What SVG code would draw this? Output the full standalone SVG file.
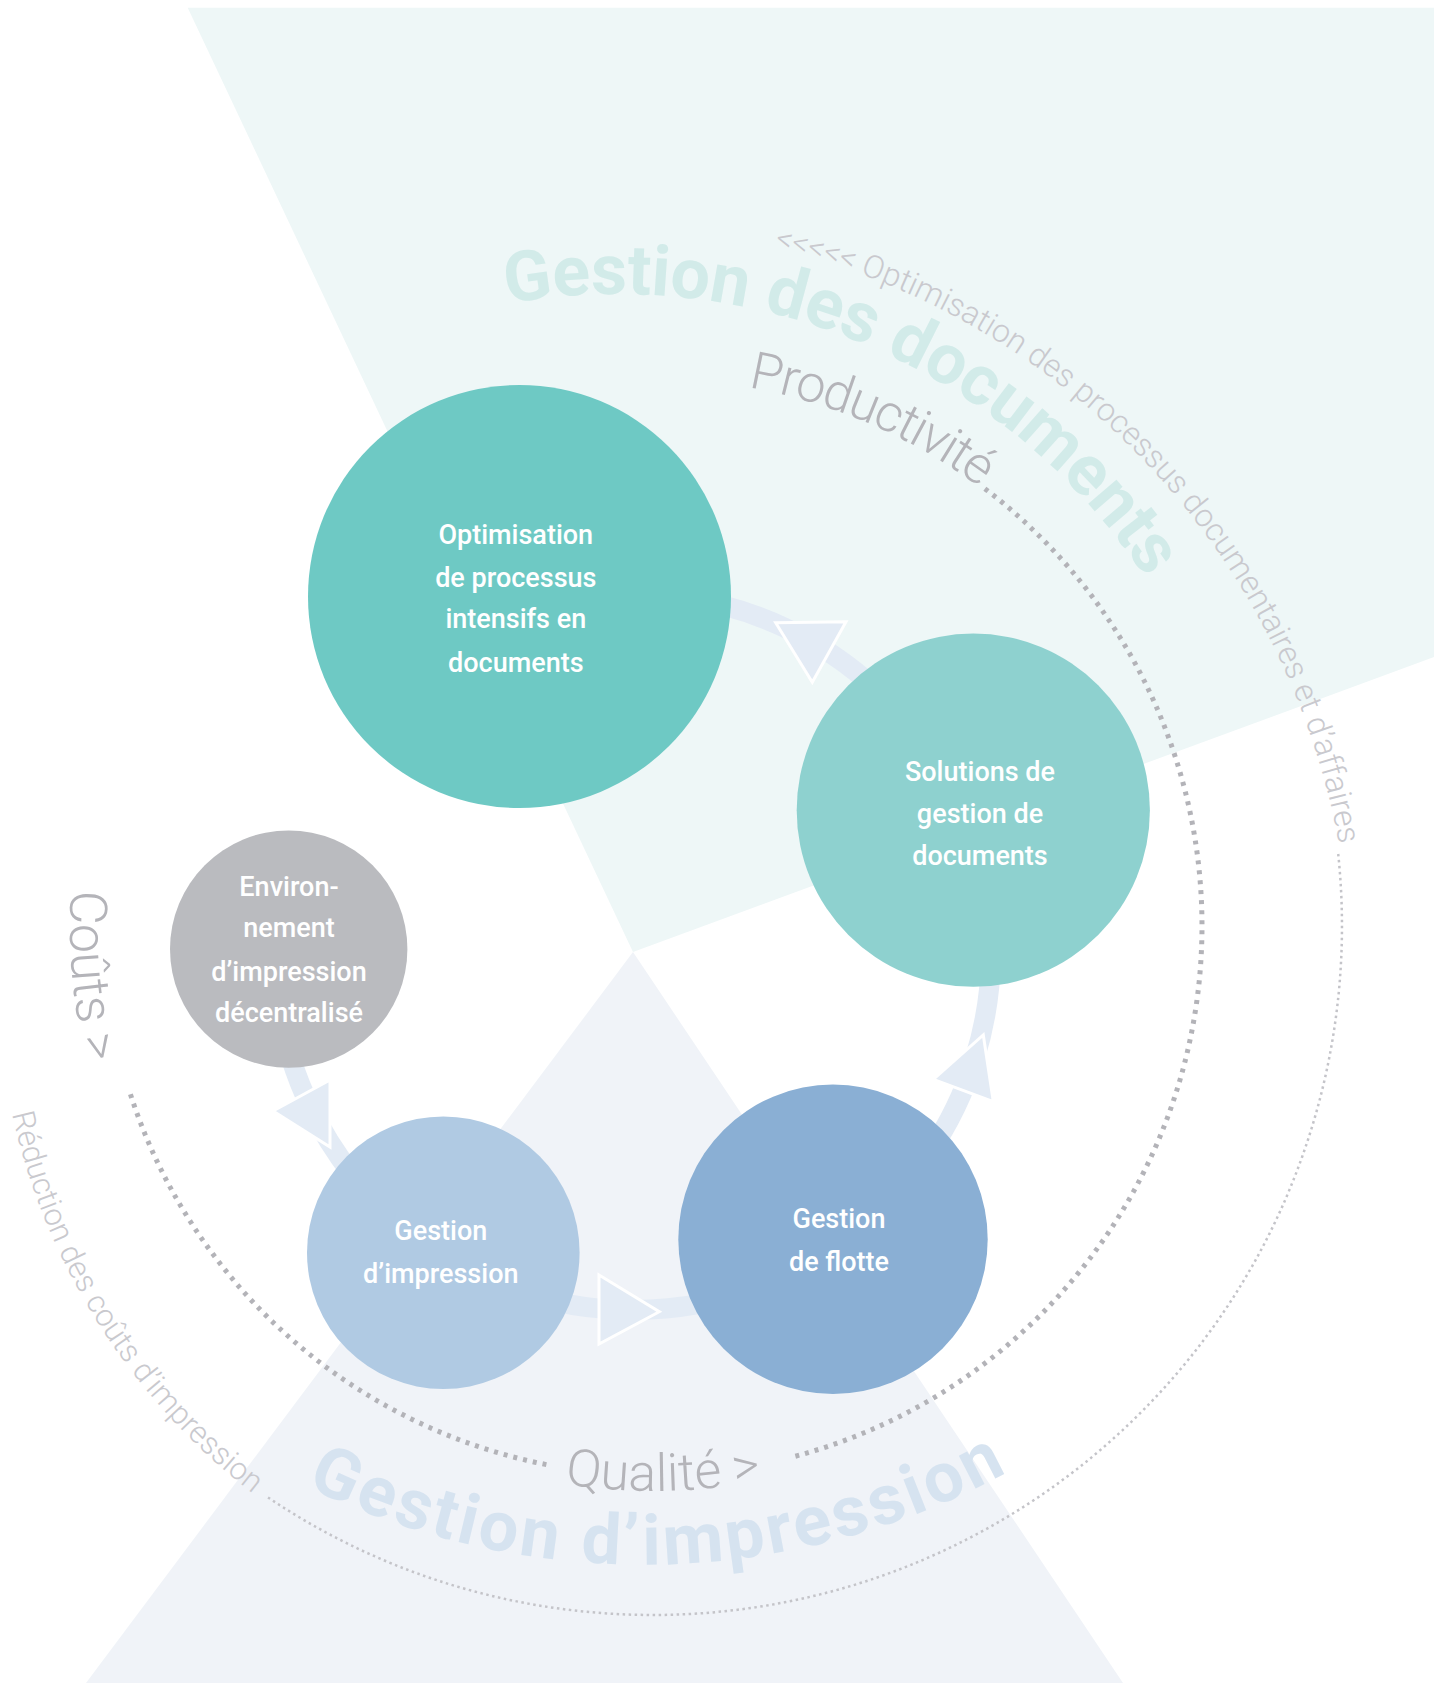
<svg xmlns="http://www.w3.org/2000/svg" width="1434" height="1683" viewBox="0 0 1434 1683">
<style>
.bg-doc{fill:#EEF7F7}
.bg-imp{fill:#F0F3F8}
.title{font-family:Roboto,'Liberation Sans',sans-serif;font-weight:700;font-size:70px}
.title-doc{fill:#D2EBE9;letter-spacing:-0.3px}
.title-imp{fill:#D6E3F0;letter-spacing:3.3px}
.arc-label{font-family:Roboto,'Liberation Sans',sans-serif;font-weight:300;font-size:52px;fill:#B4B4B9}
.tight{letter-spacing:-1.5px}
.outer-label{font-family:Roboto,'Liberation Sans',sans-serif;font-weight:300;font-size:31px;fill:#C9C9CE}
.outer-lg{font-size:32px}
.dots-inner{fill:none;stroke:#B3B3B8;stroke-width:5;stroke-dasharray:4 6}
.dots-outer{fill:none;stroke:#C4C4C9;stroke-width:2.5;stroke-dasharray:2.5 3.5}
.link{fill:none;stroke:#E3EBF5;stroke-width:20}
.arrowhead{fill:#E3EBF5;stroke:#FFFFFF;stroke-width:3}
.node-label{font-family:Roboto,'Liberation Sans',sans-serif;font-weight:500;font-size:27px;fill:#FFFFFF;text-anchor:middle}
</style>
<defs>
<path id="p-title-doc" d="M506.9,303.6 A634,634 0 0 1 1212.8,711.2"/>
<path id="p-title-imp" d="M306.1,1486.1 A764,764 0 0 0 1183.6,1340.8"/>
<path id="p-productivite" d="M748.0,387.3 A547,547 0 0 1 1072.0,574.4"/>
<path id="p-qualite" d="M564.6,1484.0 A565,565 0 0 0 891.8,1438.1"/>
<path id="p-couts" d="M71.1,890.4 A583,583 0 0 0 124.6,1172.4"/>
<path id="p-optim" d="M774.2,247.6 A753,753 0 0 1 1348.5,1045.4"/>
<path id="p-reduc" d="M12.0,1113.9 A660.5,660.5 0 0 0 430.9,1591.6"/>
</defs>

<g id="background">
<polygon class="bg-doc" points="187.7,7.7 1434,7.7 1434,657 633,952"/>
<polygon class="bg-imp" points="633,952 86,1683 1123,1683"/>
</g>

<g id="titles">
<text class="title title-doc"><textPath href="#p-title-doc">Gestion des documents</textPath></text>
<text class="title title-imp"><textPath href="#p-title-imp">Gestion d’impression</textPath></text>
</g>

<g id="scales">
<path class="dots-inner" d="M984.9,488.7 A549,549 0 0 1 793.2,1456.8"/>
<path class="dots-inner" d="M546.4,1464.6 A549,549 0 0 1 130.3,1093.8"/>
<path class="dots-outer" d="M1338.2,854.0 A689,689 0 0 1 267.7,1497.2"/>
<text class="arc-label tight"><textPath href="#p-productivite">Productivité</textPath></text>
<text class="arc-label"><textPath href="#p-qualite">Qualité &gt;</textPath></text>
<text class="arc-label"><textPath href="#p-couts">Coûts &gt;</textPath></text>
<text class="outer-label outer-lg"><textPath href="#p-optim">&lt;&lt;&lt;&lt;&lt; Optimisation des processus documentaires et d’affaires</textPath></text>
<text class="outer-label"><textPath href="#p-reduc">Réduction des coûts d’impression</textPath></text>
</g>

<g id="connectors">
<path class="link" d="M570.8,599.4 A358,358 0 0 1 943.0,773.0"/>
<path class="link" d="M978.8,859.3 A358,358 0 0 1 863.1,1226.2"/>
<path class="link" d="M812.0,1262.0 A358,358 0 0 1 454.0,1262.0"/>
<path class="link" d="M427.7,1245.3 A358,358 0 0 1 275.2,964.5"/>
<polygon class="arrowhead" points="775.7,622.7 846,621.7 812.3,682.3"/>
<polygon class="arrowhead" points="933.3,1079.3 983.3,1035 993.3,1101.7"/>
<polygon class="arrowhead" points="599,1275 659.3,1311.7 599,1344"/>
<polygon class="arrowhead" points="273,1111 330,1080 330,1147"/>
</g>

<g id="node-optimisation">
<circle cx="519.5" cy="596.5" r="211.5" fill="#6EC9C4"/>
<text class="node-label"><tspan x="515.8" y="544.3">Optimisation</tspan><tspan x="515.8" y="586.7">de processus</tspan><tspan x="515.8" y="628.3">intensifs en</tspan><tspan x="515.8" y="671.7">documents</tspan></text>
</g>

<g id="node-solutions">
<circle cx="973.3" cy="810.2" r="176.6" fill="#8ED1CF"/>
<text class="node-label"><tspan x="980" y="781">Solutions de</tspan><tspan x="980" y="823">gestion de</tspan><tspan x="980" y="865">documents</tspan></text>
</g>

<g id="node-environnement">
<circle cx="288.7" cy="949.1" r="118.7" fill="#BABBBF"/>
<text class="node-label"><tspan x="289" y="895.6">Environ-</tspan><tspan x="289" y="937">nement</tspan><tspan x="289" y="980.7">d’impression</tspan><tspan x="289" y="1022">décentralisé</tspan></text>
</g>

<g id="node-gestion-impression">
<circle cx="443.3" cy="1252.7" r="136.3" fill="#B0CAE3"/>
<text class="node-label"><tspan x="440.8" y="1240">Gestion</tspan><tspan x="440.8" y="1282.5">d’impression</tspan></text>
</g>

<g id="node-flotte">
<circle cx="833" cy="1239.3" r="154.7" fill="#8AAFD4"/>
<text class="node-label"><tspan x="839" y="1228.3">Gestion</tspan><tspan x="839" y="1270.7">de flotte</tspan></text>
</g>
</svg>
